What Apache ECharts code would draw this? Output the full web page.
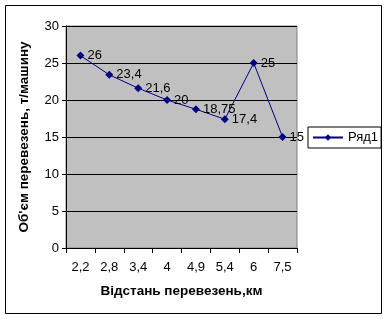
<!DOCTYPE html>
<html><head><meta charset="utf-8">
<script src="https://cdn.jsdelivr.net/npm/echarts@6/dist/echarts.min.js"></script>
<style>html,body{margin:0;padding:0;background:#fff}#c{width:388px;height:319px}</style>
</head><body><div id="c"></div>
<script>
const categories = ["2,2","2,8","3,4","4","4,9","5,4","6","7,5"];
const values = [26, 23.4, 21.6, 20, 18.75, 17.4, 25, 15];
const seriesName = "Ряд1";
const yTitle = "Об'єм перевезень, т/машину";
const xTitle = "Відстань перевезень,км";

const chart = echarts.init(document.getElementById('c'), null, {renderer:'canvas'});
const font = 'Arial, "Liberation Sans", sans-serif';
chart.setOption({
  animation:false,
  graphic:[{type:'rect',shape:{x:5.5,y:5.5,width:376,height:308},style:{fill:'none',stroke:'#000',lineWidth:1},z:-1}],
  grid:{left:66,top:26,width:231,height:222,show:true,backgroundColor:'#C0C0C0',borderColor:'#808080',borderWidth:1},
  legend:{data:[{name:seriesName}],orient:'vertical',left:308,top:127,borderColor:'#000',borderWidth:1,padding:[4,3,4,4],
    itemWidth:30,itemHeight:8,itemGap:0,textStyle:{fontFamily:font,fontSize:13,color:'#000'}},
  xAxis:{type:'category',data:categories,boundaryGap:true,
    name:xTitle,nameLocation:'middle',nameGap:36,
    nameTextStyle:{fontFamily:font,fontSize:13.5,fontWeight:'bold',color:'#000'},
    axisLine:{lineStyle:{color:'#000',width:1}},
    axisTick:{show:true,length:5,alignWithLabel:false,lineStyle:{color:'#000'}},
    axisLabel:{margin:13,fontFamily:font,fontSize:13,color:'#000'},splitLine:{show:false}},
  yAxis:{type:'value',min:0,max:30,interval:5,
    name:yTitle,nameLocation:'middle',nameGap:35,
    nameTextStyle:{fontFamily:font,fontSize:13.5,fontWeight:'bold',color:'#000'},
    axisLine:{show:true,lineStyle:{color:'#000',width:1}},
    axisTick:{show:true,length:4,lineStyle:{color:'#000'}},
    axisLabel:{margin:7,fontFamily:font,fontSize:13,color:'#000'},
    splitLine:{show:true,lineStyle:{color:'#000',width:1}}},
  series:[{name:seriesName,type:'line',data:values,symbol:'diamond',symbolSize:8,
    lineStyle:{color:'#000080',width:1},itemStyle:{color:'#000080'},
    label:{show:true,position:'right',distance:3,fontFamily:font,fontSize:13,color:'#000',
      formatter:p=>String(p.value).replace('.',',')}}]
});
</script></body></html>
